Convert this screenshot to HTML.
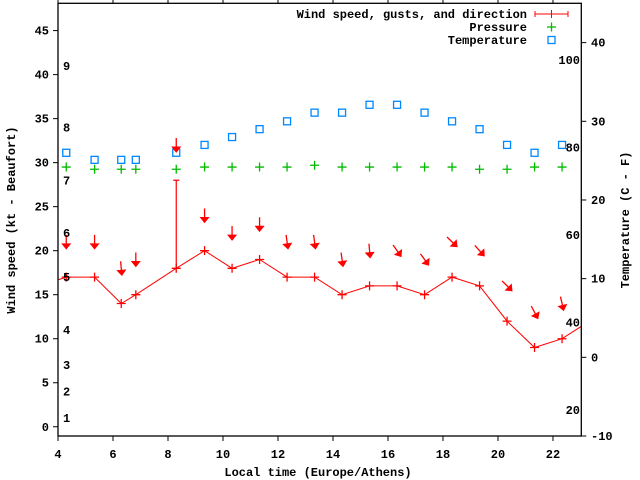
<!DOCTYPE html>
<html><head><meta charset="utf-8">
<style>
html,body{margin:0;padding:0;background:#fff;}
svg{display:block;}
text{font-family:"Liberation Mono","DejaVu Sans Mono",monospace;font-weight:bold;font-size:12px;fill:#000;}
</style></head>
<body>
<svg id="chart" width="640" height="480" viewBox="0 0 640 480" xmlns="http://www.w3.org/2000/svg">
<defs><clipPath id="plotclip"><rect x="58" y="3" width="523.3" height="433"/></clipPath></defs>
<rect x="0" y="0" width="640" height="480" fill="#fff"/>
<g id="plot" clip-path="url(#plotclip)"></g>
<g id="axes"></g>
<text transform="translate(15,220) rotate(-90)" text-anchor="middle">Wind speed (kt - Beaufort)</text>
<text transform="translate(629,220) rotate(-90)" text-anchor="middle">Temperature (C - F)</text>
<text x="318" y="476" text-anchor="middle">Local time (Europe/Athens)</text>
<g>
<text x="527" y="18" text-anchor="end">Wind speed, gusts, and direction</text>
<text x="527" y="31" text-anchor="end">Pressure</text>
<text x="527" y="44" text-anchor="end">Temperature</text>
<g stroke="#f00" stroke-width="1">
<line x1="535" y1="14" x2="568" y2="14"/><line x1="535" y1="11" x2="535" y2="17"/><line x1="568" y1="11" x2="568" y2="17"/><line x1="551.5" y1="10" x2="551.5" y2="18"/>
</g>
<g stroke="#0b0" stroke-width="1.3"><line x1="547" y1="27" x2="556" y2="27"/><line x1="551.5" y1="22.5" x2="551.5" y2="31.5"/></g>
<rect x="548" y="36.5" width="7" height="7" fill="none" stroke="#08f" stroke-width="1.3"/>
</g>
</svg>
<script>
const times = [3.33,4.3,5.33,6.3,6.83,8.3,9.33,10.33,11.33,12.33,13.33,14.33,15.33,16.33,17.33,18.33,19.33,20.33,21.33,22.33,23.33];
const windSpeed = [16,17,17,14,15,18,20,18,19,17,17,15,16,16,15,17,16,12,9,10,12];
const windGust = [null,null,null,null,null,28,null,null,null,null,null,null,null,null,null,null,null,null,null,null,null];
const windFrom = [null,0,0,355,0,0,0,0,0,352,352,352,355,325,324,314,318,315,332,347,null];
const pressure = [null,29.5,29.25,29.25,29.25,29.25,29.5,29.5,29.5,29.5,29.7,29.5,29.5,29.5,29.5,29.5,29.25,29.25,29.5,29.5,null];
const temperatureC = [null,26.0,25.1,25.1,25.1,26.0,27.0,28.0,29.0,30.0,31.1,31.1,32.1,32.1,31.1,30.0,29.0,27.0,26.0,27.0,null];
const xTicks = [4,6,8,10,12,14,16,18,20,22];
const yTicks = [0,5,10,15,20,25,30,35,40,45];
const y2Ticks = [-10,0,10,20,30,40];
const fahrenheitLabels = [20,40,60,80,100];
const beaufortKt = [1,4,7,11,17,22,28,34,41];
const beaufortLabels = ["1","2","3","4","5","6","7","8","9"];

const L=58,R=581.3,T=3.3,B=436;
const xMin=4,xMax=23.03,yMin=-1.05,yMax=48.1,y2Min=-10,y2Max=45;
const X=h=>L+(h-xMin)/(xMax-xMin)*(R-L);
const Y=v=>B-(v-yMin)/(yMax-yMin)*(B-T);
const Y2=c=>B-(c-y2Min)/(y2Max-y2Min)*(B-T);
const NS="http://www.w3.org/2000/svg";
const plot=document.getElementById('plot'), axes=document.getElementById('axes');
function mk(tag,attrs,parent){const e=document.createElementNS(NS,tag);for(const k in attrs)e.setAttribute(k,attrs[k]);parent.appendChild(e);return e;}

const frame=mk('rect',{x:L,y:T,width:R-L,height:B-T,fill:'none',stroke:'#000','stroke-width':1.3},axes);


xTicks.forEach(h=>{
  const x=X(h);
  mk('line',{x1:x,y1:B,x2:x,y2:B+5,stroke:'#000'},axes);
  mk('line',{x1:x,y1:T,x2:x,y2:T-5,stroke:'#000'},axes);
  const t=mk('text',{x:x,y:458,'text-anchor':'middle'},axes);t.textContent=h;
  
  
});
yTicks.forEach(v=>{
  const y=Y(v);
  mk('line',{x1:L,y1:y,x2:L-5,y2:y,stroke:'#000'},axes);
  const t=mk('text',{x:49,y:y+4,'text-anchor':'end'},axes);t.textContent=v;
  
  
});
y2Ticks.forEach(c=>{
  const y=Y2(c);
  mk('line',{x1:R,y1:y,x2:R+5,y2:y,stroke:'#000'},axes);
  const t=mk('text',{x:591,y:y+4,'text-anchor':'start'},axes);t.textContent=c;
  
  
});
fahrenheitLabels.forEach(f=>{
  const c=(f-32)*5/9;
  const t=mk('text',{x:580,y:Y2(c)+4,'text-anchor':'end'},axes);t.textContent=f;
  
  
});
beaufortKt.forEach((k,i)=>{
  const t=mk('text',{x:63,y:Y(k)+4,'text-anchor':'start'},axes);t.textContent=beaufortLabels[i];
  
  
});

times.forEach((h,i)=>{
  if(temperatureC[i]==null)return;
  const s=mk('rect',{x:X(h)-3.5,y:Y2(temperatureC[i])-3.5,width:7,height:7,fill:'none',stroke:'#08f','stroke-width':1.3},plot);
  
  
});
times.forEach((h,i)=>{
  if(pressure[i]==null)return;
  const x=X(h),y=Y(pressure[i]);
  const g=mk('path',{d:`M${x-4.5} ${y}H${x+4.5}M${x} ${y-4.5}V${y+4.5}`,stroke:'#0b0','stroke-width':1.3,fill:'none'},plot);
  
  
});
const line=mk('polyline',{points:times.map((h,i)=>X(h)+','+Y(windSpeed[i])).join(' '),fill:'none',stroke:'#f00','stroke-width':1},plot);


times.forEach((h,i)=>{
  const x=X(h),y=Y(windSpeed[i]);
  const p=mk('path',{d:`M${x-4.5} ${y}H${x+4.5}M${x} ${y-4.5}V${y+4.5}`,stroke:'#f00','stroke-width':1.3,fill:'none'},plot);
  
  
  if(windGust[i]!=null){
    const yg=Y(windGust[i]);
    const g=mk('path',{d:`M${x} ${y}V${yg}M${x-3} ${yg}H${x+3}`,stroke:'#f00','stroke-width':1.2,fill:'none'},plot);
    
    
  }
  if(windFrom[i]!=null){
    const base=Math.max(windSpeed[i],windGust[i]||0)+4;
    const cy=Y(base);
    const a=mk('g',{transform:`translate(${x},${cy}) rotate(${windFrom[i]})`},plot);
    
    
    mk('line',{x1:0,y1:-7,x2:0,y2:5,stroke:'#f00','stroke-width':1.3},a);
    mk('path',{d:'M-4 2L4 2L0 7Z',fill:'#f00',stroke:'#f00','stroke-width':1},a);
  }
});
</script>
</body></html>
